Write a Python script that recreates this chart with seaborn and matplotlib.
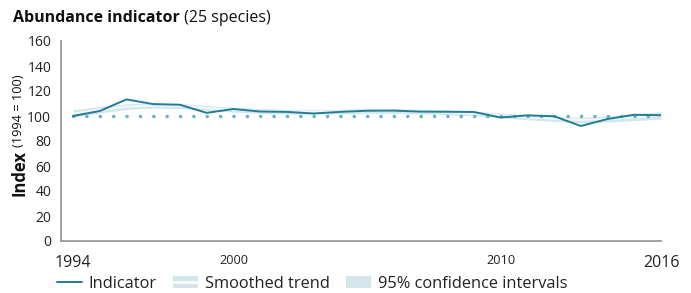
import numpy as np
import pandas as pd
import matplotlib.pyplot as plt
import seaborn as sns
from matplotlib.lines import Line2D
from matplotlib.patches import Patch
from matplotlib.legend_handler import HandlerTuple

# ── Data ────────────────────────────────────────────────────────────────────
years = list(range(1994, 2017))
indicator = [100, 104, 113.3, 109.5, 109, 102.5, 105.6, 103.6, 103.3, 102,
             103.3, 104.2, 104.3, 103.5, 103.4, 103.2, 98.8, 100.5, 99.8, 92,
             97.6, 101, 100.6]
smoothed = [102, 105, 107.5, 108.5, 108, 106.5, 105, 104, 103.5, 103.5,
            103.5, 104, 104, 103.5, 103, 102, 100.5, 99, 97.8, 96.8,
            97.6, 99, 100.5]
ci_half = [3, 2.6, 2.3, 2.1, 2, 2, 1.9, 1.9, 1.9, 1.9,
           1.9, 1.9, 1.9, 1.9, 1.9, 1.9, 2, 2, 2.1, 2.2,
           2.4, 2.7, 3]
baseline = 100

df = pd.DataFrame({"year": years, "indicator": indicator, "smoothed": smoothed})
df["lo"] = df["smoothed"] - np.array(ci_half)
df["hi"] = df["smoothed"] + np.array(ci_half)

# ── Style ───────────────────────────────────────────────────────────────────
sns.set_theme(style="white")
plt.rcParams["font.family"] = ["Open Sans", "DejaVu Sans"]

LINE_C = "#1f7d97"
DOT_C = "#6cafc2"
CI_C = "#d3e6ec"
SMOOTH_C = "#f2f8fa"
SPINE_C = "#9a9a9a"
TEXT_C = "#222222"

fig = plt.figure(figsize=(6.91, 2.93), dpi=100)
ax = fig.add_axes([61 / 691, 52 / 293, 600 / 691, 200 / 293])

ax.fill_between(df["year"], df["lo"], df["hi"], color=CI_C, lw=0, zorder=1)
sns.lineplot(data=df, x="year", y="smoothed", ax=ax, color=SMOOTH_C, lw=1.6, zorder=2)
ax.plot([1994, 2016], [baseline, baseline], ls=(0, (0.05, 3.8)), lw=2.5,
        color=DOT_C, dash_capstyle="round", zorder=3)
sns.lineplot(data=df, x="year", y="indicator", ax=ax, color=LINE_C, lw=1.4, zorder=4)

ax.set_xlim(1993.55, 2016)
ax.set_ylim(0, 160)
ax.set_xlabel("")
ax.set_ylabel("")

for s in ["top", "right"]:
    ax.spines[s].set_visible(False)
for s in ["left", "bottom"]:
    ax.spines[s].set_color(SPINE_C)
    ax.spines[s].set_linewidth(1.3)

ax.set_yticks(range(0, 161, 20))
ax.tick_params(axis="y", length=0, pad=7, labelsize=10, labelcolor=TEXT_C)

ax.set_xticks([1995, 2000, 2005, 2010, 2015])
ax.set_xticklabels(["", "2000", "", "2010", ""])
ax.set_xticks([1994, 2016], minor=True)
ax.set_xticklabels(["1994", "2016"], minor=True)
ax.tick_params(axis="x", which="major", direction="in", length=7, width=1.2,
               color=SPINE_C, labelsize=9.2, pad=9, labelcolor=TEXT_C)
ax.tick_params(axis="x", which="minor", direction="in", length=15, width=1.2,
               color=SPINE_C, labelsize=11.5, pad=10, labelcolor=TEXT_C)
ax.xaxis.get_minor_ticks()[0].tick1line.set_visible(False)

# ── Title and axis label ────────────────────────────────────────────────────
fig.canvas.draw()
r = fig.canvas.get_renderer()
t1 = fig.text(13 / 691, 1 - 18 / 293, "Abundance indicator", fontsize=11.5,
              fontweight="bold", va="center", ha="left", color="#111111")
bb = t1.get_window_extent(r).transformed(fig.transFigure.inverted())
fig.text(bb.x1, 1 - 18 / 293, " (25 species)", fontsize=11.5, va="center",
         ha="left", color="#111111")

l1 = fig.text(19 / 691, 1 - 196 / 293, "Index", fontsize=12, fontweight="bold",
              rotation=90, ha="center", va="bottom", color="#111111")
bb = l1.get_window_extent(r).transformed(fig.transFigure.inverted())
fig.text(19 / 691, bb.y1 + 3 / 293, "(1994 = 100)", fontsize=9.2, rotation=90,
         ha="center", va="bottom", color="#111111")

# ── Legend ──────────────────────────────────────────────────────────────────
h_ind = Line2D([], [], color=LINE_C, lw=1.4)
h_smooth = (Patch(facecolor=CI_C, lw=0), Line2D([], [], color="white", lw=2.0))
h_ci = Patch(facecolor=CI_C, lw=0)
fig.legend([h_ind, h_smooth, h_ci],
           ["Indicator", "Smoothed trend", "95% confidence intervals"],
           handler_map={tuple: HandlerTuple(ndivide=1, pad=0)},
           loc="center left", bbox_to_anchor=(57 / 691, 1 - 284 / 293),
           borderpad=0, borderaxespad=0,
           ncol=3, frameon=False, fontsize=11.8, handlelength=1.5,
           handleheight=0.75, handletextpad=0.43, columnspacing=1.0,
           labelcolor=TEXT_C)

fig.savefig("out.png", dpi=100)
